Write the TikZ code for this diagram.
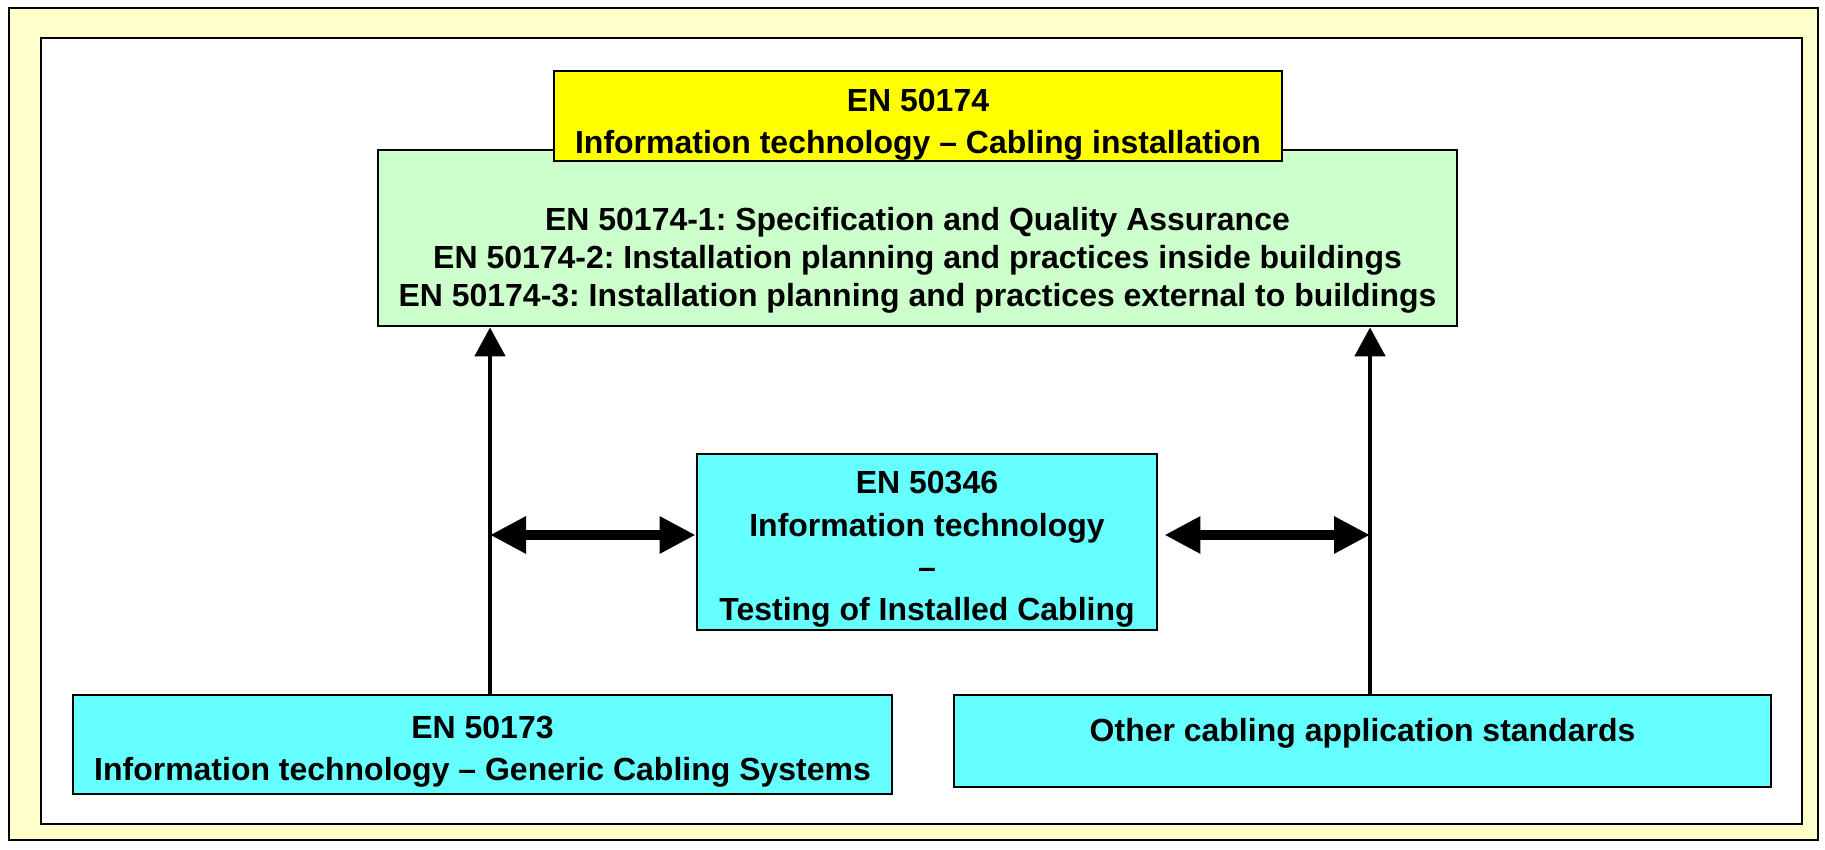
\documentclass[tikz,border=0pt]{standalone}
\usepackage{fontspec}
\setmainfont{Liberation Sans}
\frenchspacing
\usetikzlibrary{arrows.meta}
\definecolor{paleyellow}{HTML}{FFFFCC}
\definecolor{stdyellow}{HTML}{FFFF00}
\definecolor{stdgreen}{HTML}{CCFFCC}
\definecolor{stdcyan}{HTML}{66FFFF}

\begin{document}
\begin{tikzpicture}[auto=center,
    stdbox/.style={draw=black,line width=0.8pt,align=center,inner sep=0pt,
      font=\fontsize{9.1}{12}\selectfont\bfseries},
    uparrow/.style={line width=1.4pt,-{Triangle[length=2.9mm,width=3mm]}},
    bothways/.style={line width=2.6pt,
      {Triangle[length=3.6mm,width=3.5mm]}-{Triangle[length=3.6mm,width=3.5mm]}}]
  \useasboundingbox (0,0) rectangle (18.25,8.5);
  \draw[fill=paleyellow,line width=0.8pt] (0.09,0.10) rectangle (18.18,8.42);
  \draw[fill=white,line width=0.8pt] (0.41,0.26) rectangle (18.02,8.12);

  \node[stdbox,fill=stdgreen,minimum width=10.79cm,minimum height=1.76cm,
    font=\fontsize{9.1}{10.8}\selectfont\bfseries] (parts) at (9.175,6.12)
    {\rule{0pt}{0.68cm}EN 50174-1: Specification and Quality Assurance\\
     EN 50174-2: Installation planning and practices inside buildings\\
     EN 50174-3: Installation planning and practices external to buildings};
  \node[stdbox,fill=stdyellow,minimum width=7.28cm,minimum height=0.90cm] (install) at (9.18,7.34)
    {\rule{0pt}{0.4cm}EN 50174\\Information technology -- Cabling installation};
  \node[stdbox,fill=stdcyan,minimum width=4.60cm,minimum height=1.76cm] (testing) at (9.27,3.08)
    {\rule{0pt}{0.37cm}EN 50346\\Information technology\\--\\Testing of Installed Cabling};
  \node[stdbox,fill=stdcyan,minimum width=8.19cm,minimum height=0.99cm] (generic) at (4.825,1.055)
    {\rule{0pt}{0.37cm}EN 50173\\Information technology -- Generic Cabling Systems};
  \node[stdbox,fill=stdcyan,minimum width=8.17cm,minimum height=0.92cm] (other) at (13.625,1.09)
    {\rule[-0.22cm]{0pt}{0.1cm}Other cabling application standards};

  \coordinate (lx) at (4.90,0);
  \coordinate (rx) at (13.70,0);
  \coordinate (tw) at ([yshift=0.07cm]testing.west);
  \coordinate (te) at ([xshift=0.06cm,yshift=0.07cm]testing.east);
  \draw[uparrow] (generic.north -| lx) -- (parts.south -| lx);
  \draw[uparrow] (other.north -| rx) -- (parts.south -| rx);
  \draw[bothways] (lx |- tw) -- (tw);
  \draw[bothways] (te) -- (rx |- te);
\end{tikzpicture}
\end{document}
